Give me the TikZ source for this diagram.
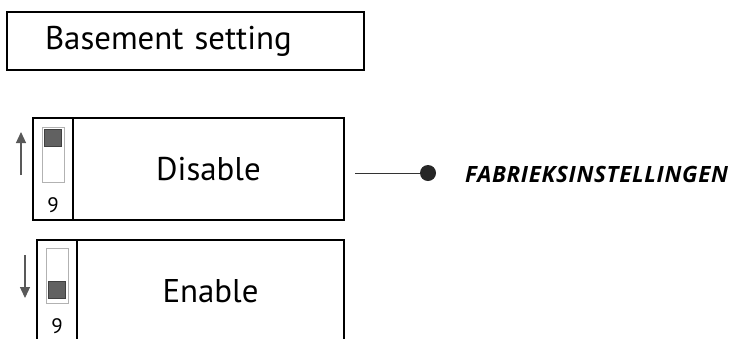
\documentclass[tikz,border=0pt]{standalone}
\usepackage{fontspec}
\setmainfont{PT Sans}
\newfontfamily\factoryfont[LetterSpace=3]{Open Sans}
\usetikzlibrary{arrows.meta, positioning}

\begin{document}
\begin{tikzpicture}[x=1bp, y=-1bp,
  cell/.style={draw, line width=1.4bp, outer sep=0pt, minimum height=102bp, inner sep=0pt, anchor=north west},
  slot/.style={draw=black!30, line width=0.8bp, minimum width=22bp, minimum height=55bp, inner sep=0pt, anchor=north},
  knob/.style={draw=black!75, fill=black!62, minimum width=17bp, minimum height=17bp, inner sep=0pt},
  num/.style={font=\fontsize{21}{24}\selectfont, inner sep=0pt},
  arr/.style={draw=black!65, line width=1.2bp, -{Triangle[width=10bp,length=11bp]}}]
  \useasboundingbox (0,0) rectangle (731,338);

  % title
  \node[draw, line width=1.4bp, outer sep=0pt, anchor=north west, minimum height=58bp, inner xsep=38bp,
        text width=281bp, align=left, font=\fontsize{33}{40}\selectfont] (title) at (7,12) {Basement setting};

  % switch off
  \node[cell, minimum width=40bp] (dis-dip) at (33,118) {};
  \node[cell, minimum width=271bp, right=0pt of dis-dip, font=\fontsize{33}{40}\selectfont] (dis-label) {Disable};
  \node[slot] (dis-slot) at ([yshift=-9bp]dis-dip.north) {};
  \node[knob, anchor=north] (dis-knob) at ([yshift=-2bp]dis-slot.north) {};
  \node[num] (dis-num) at ([yshift=15bp]dis-dip.south) {9};
  \coordinate (dis-tail) at (21,175);
  \coordinate (dis-tip) at (21,132);
  \draw[arr] (dis-tail) -- (dis-tip);

  % switch on
  \node[cell, minimum width=40bp] (en-dip) at (37,240) {};
  \node[cell, minimum width=267bp, right=0pt of en-dip, font=\fontsize{33}{40}\selectfont] (en-label) {Enable};
  \node[slot] (en-slot) at ([yshift=-8bp]en-dip.north) {};
  \node[knob, anchor=south] (en-knob) at ([yshift=5bp]en-slot.south) {};
  \node[num] (en-num) at ([yshift=16bp]en-dip.south) {9};
  \coordinate (en-tail) at (25,255);
  \coordinate (en-tip) at (25,298);
  \draw[arr] (en-tail) -- (en-tip);

  % factory default
  \coordinate (lead) at (355,173);
  \node[circle, fill=black!85, minimum size=16bp, inner sep=0pt] (dot) at (428,173) {};
  \draw[line width=1bp, black!80] (lead) -- (dot);
  \node[anchor=west, inner sep=0pt, font=\factoryfont\bfseries\itshape\fontsize{22.5}{26}\selectfont] (factory) at (465,174.5) {FABRIEKSINSTELLINGEN};
\end{tikzpicture}
\end{document}
